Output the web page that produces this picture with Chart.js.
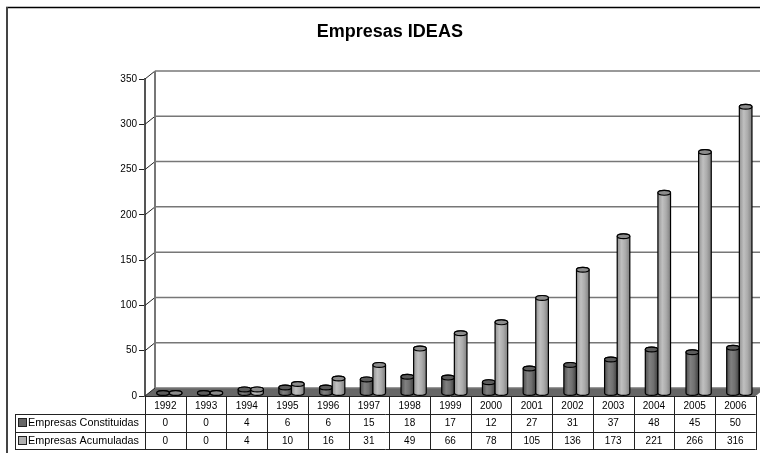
<!DOCTYPE html>
<html>
<head>
<meta charset="utf-8">
<script src="https://cdn.jsdelivr.net/npm/chart.js@4"></script>
<style>
html, body { margin: 0; padding: 0; background: #fff; overflow: hidden; }
canvas { display: block; }
</style>
</head>
<body>
<canvas id="bar_chart" width="760" height="456"></canvas>
<script>
var years = ["1992","1993","1994","1995","1996","1997","1998","1999","2000","2001","2002","2003","2004","2005","2006"];
var constituidas = [0,0,4,6,6,15,18,17,12,27,31,37,48,45,50];
var acumuladas = [0,0,4,10,16,31,49,66,78,105,136,173,221,266,316];
var yTicks = [0,50,100,150,200,250,300,350];
var chartTitle = "Empresas IDEAS";
var seriesNames = ["Empresas Constituidas","Empresas Acumuladas"];

var depthX = 10, depthY = 8;   // back wall offset
var barX = 4, barY = 3;        // bars stand in the middle of the floor
var rowY = [396, 414, 432, 449];
var tableLeft = 15.5;

var seriesLook = [
  { stops: ["#505050","#808080","#707070","#404040"], cap: "#5c5c5c", swatch: "#666666" },
  { stops: ["#929292","#c0c0c0","#ababab","#808080"], cap: "#8c8c8c", swatch: "#b0b0b0" }
];

function drawCylinder(ctx, bar, zeroY, look) {
  var left = bar.x - bar.width / 2, right = bar.x + bar.width / 2;
  var rx = bar.width / 2, ry = 2.4;
  var grad = ctx.createLinearGradient(left, 0, right, 0);
  grad.addColorStop(0, look.stops[0]);
  grad.addColorStop(0.35, look.stops[1]);
  grad.addColorStop(0.65, look.stops[2]);
  grad.addColorStop(1, look.stops[3]);

  ctx.beginPath();
  ctx.moveTo(left, bar.y);
  ctx.lineTo(left, zeroY);
  ctx.ellipse(bar.x, zeroY, rx, ry, 0, Math.PI, 0, true);
  ctx.lineTo(right, bar.y);
  ctx.ellipse(bar.x, bar.y, rx, ry, 0, 0, Math.PI, true);
  ctx.closePath();
  ctx.fillStyle = grad;
  ctx.fill();
  ctx.lineWidth = 1.2;
  ctx.strokeStyle = "#000";
  ctx.stroke();

  ctx.beginPath();
  ctx.ellipse(bar.x, bar.y, rx, ry, 0, 0, Math.PI * 2);
  ctx.fillStyle = look.cap;
  ctx.fill();
  ctx.stroke();
}

var ideasPlugin = {
  id: "ideas3d",
  afterLayout: function (chart) {
    // the original title sits on the centre of the full, wider frame
    chart.titleBlock.left += 12;
    chart.titleBlock.right += 12;
  },
  beforeDraw: function (chart) {
    var ctx = chart.ctx;
    ctx.save();
    ctx.fillStyle = "#fff";
    ctx.fillRect(0, 0, chart.width, chart.height);
    ctx.strokeStyle = "#000";
    ctx.lineWidth = 1.5;
    ctx.beginPath();
    ctx.moveTo(6, 7.5);
    ctx.lineTo(chart.width, 7.5);
    ctx.stroke();
    ctx.strokeStyle = "#444";
    ctx.lineWidth = 2;
    ctx.beginPath();
    ctx.moveTo(7, 7);
    ctx.lineTo(7, 453);
    ctx.stroke();
    ctx.restore();
  },
  beforeDatasetsDraw: function (chart) {
    var ctx = chart.ctx, y = chart.scales.y, x = chart.scales.x;
    var left = x.left, right = x.right, zero = y.getPixelForValue(0);
    ctx.save();

    // floor
    ctx.beginPath();
    ctx.moveTo(left, zero);
    ctx.lineTo(left + depthX, zero - depthY);
    ctx.lineTo(right + depthX, zero - depthY);
    ctx.lineTo(right, zero);
    ctx.closePath();
    ctx.fillStyle = "#666";
    ctx.fill();

    // back wall lines and the diagonals to the axis
    yTicks.forEach(function (v) {
      var py = y.getPixelForValue(v);
      ctx.strokeStyle = "#777";
      ctx.lineWidth = 1.5;
      ctx.beginPath();
      ctx.moveTo(left + depthX, py - depthY);
      ctx.lineTo(right + depthX, py - depthY);
      ctx.stroke();
      ctx.strokeStyle = "#222";
      ctx.lineWidth = 1;
      ctx.beginPath();
      ctx.moveTo(left, py);
      ctx.lineTo(left + depthX, py - depthY);
      ctx.stroke();
    });
    ctx.strokeStyle = "#777";
    ctx.lineWidth = 2;
    ctx.beginPath();
    ctx.moveTo(left + depthX, y.getPixelForValue(350) - depthY);
    ctx.lineTo(left + depthX, zero - depthY);
    ctx.stroke();
    ctx.restore();

    ctx.save();
    ctx.translate(barX, -barY);
  },
  afterDatasetsDraw: function (chart) {
    var ctx = chart.ctx, zero = chart.scales.y.getPixelForValue(0);
    [0, 1].forEach(function (d) {
      chart.getDatasetMeta(d).data.forEach(function (bar) {
        drawCylinder(ctx, bar, zero, seriesLook[d]);
      });
    });
    ctx.restore();
    drawTable(chart);
  }
};

function drawTable(chart) {
  var ctx = chart.ctx, x = chart.scales.x;
  var left = x.left, right = x.right;
  var rows = [constituidas, acumuladas];
  ctx.save();

  ctx.lineWidth = 1;
  ctx.strokeStyle = "#222";
  ctx.beginPath();
  ctx.moveTo(left, rowY[0] + 0.5);
  ctx.lineTo(right, rowY[0] + 0.5);
  ctx.moveTo(tableLeft, rowY[1] + 0.5);
  ctx.lineTo(right, rowY[1] + 0.5);
  ctx.moveTo(tableLeft, rowY[2] + 0.5);
  ctx.lineTo(right, rowY[2] + 0.5);
  ctx.moveTo(tableLeft, rowY[3] + 0.5);
  ctx.lineTo(right, rowY[3] + 0.5);
  ctx.moveTo(tableLeft, rowY[1]);
  ctx.lineTo(tableLeft, rowY[3] + 1);
  years.forEach(function (year, i) {
    var lineX = Math.round(x.getPixelForValue(i) - (right - left) / years.length / 2) + 0.5;
    ctx.moveTo(lineX, rowY[0]);
    ctx.lineTo(lineX, rowY[3] + 1);
  });
  var endX = Math.round(right) + 0.5;
  ctx.moveTo(endX, rowY[0]);
  ctx.lineTo(endX, rowY[3] + 1);
  ctx.stroke();

  ctx.fillStyle = "#000";
  ctx.font = "10px 'Liberation Sans', Arial, sans-serif";
  ctx.textAlign = "center";
  ctx.textBaseline = "middle";
  years.forEach(function (year, i) {
    var cx = x.getPixelForValue(i);
    ctx.fillText(year, cx, (rowY[0] + rowY[1]) / 2 + 1);
    ctx.fillText(String(rows[0][i]), cx, (rowY[1] + rowY[2]) / 2 + 0.5);
    ctx.fillText(String(rows[1][i]), cx, (rowY[2] + rowY[3]) / 2 + 0.5);
  });

  ctx.textAlign = "left";
  ctx.font = "10.8px 'Liberation Sans', Arial, sans-serif";
  seriesNames.forEach(function (name, r) {
    var midY = (rowY[r + 1] + rowY[r + 2]) / 2;
    ctx.fillStyle = seriesLook[r].swatch;
    ctx.fillRect(19, Math.round(midY) - 4, 7, 7);
    ctx.strokeStyle = "#222";
    ctx.strokeRect(18.5, Math.round(midY) - 4.5, 8, 8);
    ctx.fillStyle = "#000";
    ctx.fillText(name, 28, midY + 0.5);
  });
  ctx.restore();
}

var ctx = document.getElementById("bar_chart");

var myBarChart = new Chart(ctx, {
  type: "bar",
  data: {
    labels: years,
    datasets: [
      { label: seriesNames[0], data: constituidas, backgroundColor: "#666666" },
      { label: seriesNames[1], data: acumuladas, backgroundColor: "#b0b0b0" }
    ]
  },
  options: {
    responsive: false,
    animation: false,
    events: [],
    categoryPercentage: 0.62,
    barPercentage: 1,
    layout: { padding: { left: 0, right: 4.3, top: 0, bottom: 60 } },
    plugins: {
      legend: { display: false },
      tooltip: { enabled: false },
      title: {
        display: true,
        text: chartTitle,
        color: "#000",
        font: { family: "'Liberation Sans', Arial, sans-serif", size: 18, weight: "bold" },
        padding: { top: 21.5, bottom: 35.9 }
      }
    },
    scales: {
      x: { display: false },
      y: {
        min: 0,
        max: 350,
        afterFit: function (scale) { scale.width = 145; },
        afterBuildTicks: function (scale) {
          scale.ticks = yTicks.map(function (v) { return { value: v }; });
        },
        ticks: {
          color: "#000",
          padding: 2,
          font: { family: "'Liberation Sans', Arial, sans-serif", size: 10 }
        },
        grid: { drawOnChartArea: false, drawTicks: true, tickLength: 6, color: "#222" },
        border: { color: "#555", width: 2 }
      }
    }
  },
  plugins: [ideasPlugin]
});
</script>
</body>
</html>
